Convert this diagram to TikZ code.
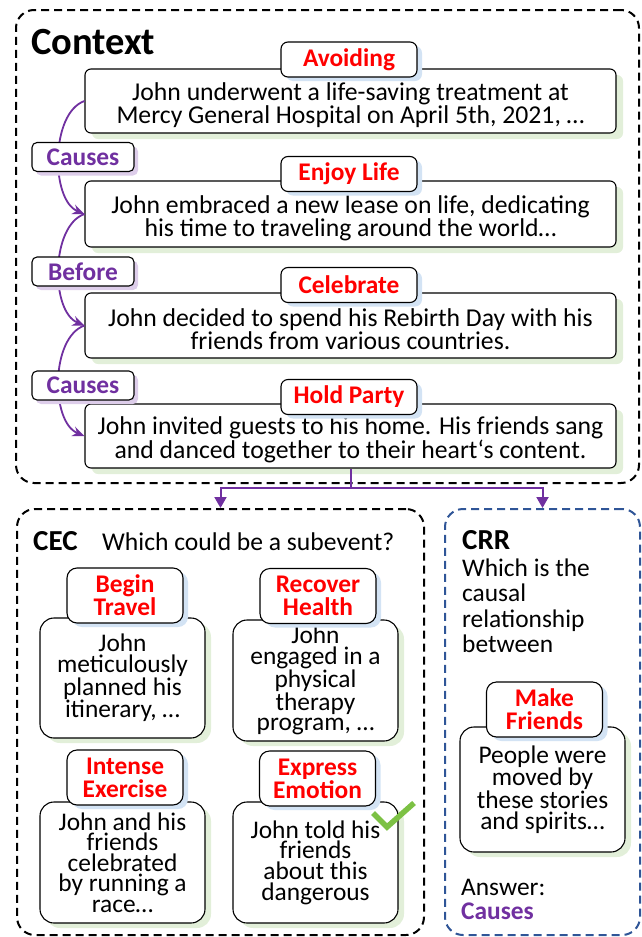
\documentclass[tikz,border=0pt]{standalone}
\usepackage{fontspec}
\setmainfont{Carlito}
\usetikzlibrary{shadows,arrows.meta}
\definecolor{relpurple}{HTML}{7030A0}
\definecolor{tagred}{HTML}{FF0000}
\definecolor{crrblue}{HTML}{2F5597}
\definecolor{checkgreen}{HTML}{7CC144}
\definecolor{shgreen}{HTML}{E2EFD9}
\definecolor{shblue}{HTML}{D3E3F4}
\definecolor{shpurple}{HTML}{DDCDEA}
\newcommand\evfont{\fontsize{25.7}{19.8}\selectfont}
\newcommand\subfont{\fontsize{25.4}{20.6}\selectfont}
\newcommand\tagfont{\fontsize{25.4}{23}\selectfont\bfseries}
\newcommand\evtop{\rule{0pt}{26pt}}
\begin{document}
\begin{tikzpicture}[x=1pt,y=-1pt,
  outerbox/.style={draw=black, line width=2pt, dash pattern=on 8pt off 5pt, rounded corners=18pt, inner sep=0pt},
  evbox/.style={draw=black, line width=1.1pt, rounded corners=6pt, fill=white, minimum width=531pt, align=center, font=\evfont, inner sep=0pt,
    general shadow={fill=shgreen, shadow xshift=7pt, shadow yshift=-6pt}},
  tagbox/.style={draw=black, line width=1.1pt, rounded corners=7pt, fill=white, minimum width=136pt, minimum height=35pt, inner sep=0pt, font=\tagfont, text=tagred,
    general shadow={fill=shblue, shadow xshift=5pt, shadow yshift=-4pt}},
  relbox/.style={draw=black, line width=1.1pt, rounded corners=5pt, fill=white, minimum width=102pt, minimum height=29pt, inner sep=0pt, font=\tagfont, text=relpurple,
    general shadow={fill=shpurple, shadow xshift=4pt, shadow yshift=-4pt}},
  relline/.style={draw=relpurple, line width=1.8pt, -{Stealth[length=12pt,width=10pt]}},
  flowline/.style={draw=relpurple, line width=2pt},
  subbox/.style={draw=black, line width=1.1pt, rounded corners=14pt, fill=white, minimum width=165pt, align=center, font=\subfont, inner sep=0pt,
    general shadow={fill=shgreen, shadow xshift=6pt, shadow yshift=-5pt}},
  subtag/.style={draw=black, line width=1.1pt, rounded corners=10pt, fill=white, minimum width=116pt, minimum height=55pt, inner sep=0pt, align=center, font=\tagfont, text=tagred,
    general shadow={fill=shblue, shadow xshift=5pt, shadow yshift=-4pt}},
  plain/.style={inner sep=0pt, anchor=base west}
]
\useasboundingbox (0,0) rectangle (641,937);

% outer boxes
\node[outerbox, minimum width=623pt, minimum height=473pt] (ctx) at (327.5,246.5) {};
\node[outerbox, minimum width=407pt, minimum height=426pt] (cec) at (220.5,722) {};
\node[outerbox, draw=crrblue, minimum width=195pt, minimum height=426pt] (crr) at (542.5,722) {};

% context title
\node[plain, font=\fontsize{38.5}{40}\selectfont\bfseries] (ctxtitle) at (31,54) {Context};

% event boxes
\node[evbox, minimum height=64pt] (b1) at (350.5,101) {\evtop John underwent a life-saving treatment at\\Mercy General Hospital on April 5th, 2021, \dots};
\node[evbox, minimum height=66pt] (b2) at (350.5,214) {\evtop John embraced a new lease on life, dedicating\\his time to traveling around the world\dots};
\node[evbox, minimum height=65pt] (b3) at (350.5,325.5) {\evtop John decided to spend his Rebirth Day with his\\friends from various countries.};
\node[evbox, minimum height=64pt] (b4) at (350.5,436) {\evtop John invited guests to his home. His friends sang\\and danced together to their heart‘s content.};

% tags
\node[tagbox] (t1) at (349,59.5) {Avoiding};
\node[tagbox] (t2) at (349,174) {Enjoy Life};
\node[tagbox] (t3) at (349,285) {Celebrate};
\node[tagbox] (t4) at (349,397) {Hold Party};

% relation curves
\draw[relline] (b1.west) .. controls +(-34,12) and +(-34,-14) .. (b2.west);
\draw[relline] (b2.west) .. controls +(-34,12) and +(-34,-14) .. (b3.west);
\draw[relline] (b3.west) .. controls +(-34,12) and +(-34,-14) .. (b4.west);

\node[relbox] (r1) at (83,157) {Causes};
\node[relbox] (r2) at (83,271.5) {Before};
\node[relbox] (r3) at (83,385.5) {Causes};

% flow to tasks
\coordinate (split) at (350.5,488);
\draw[flowline] (b4.south) -- (split);
\draw[flowline, -{Triangle[length=11pt,width=12pt]}] (split) -| (cec.north);
\draw[flowline, -{Triangle[length=11pt,width=12pt]}] (split) -| (crr.north);

% CEC
\node[plain, font=\fontsize{29}{32}\selectfont\bfseries] (cectitle) at (33,550) {CEC};
\node[plain, font=\fontsize{25.6}{28}\selectfont] (cecq) at (102,550) {Which could be a subevent?};

\node[subbox, minimum height=120pt] (s1) at (122.5,678) {John\\meticulously\\planned his\\itinerary, \dots};
\node[subbox, minimum height=121pt] (s2) at (315.5,680.5) {John\\engaged in a\\physical\\therapy\\program, \dots};
\node[subbox, minimum height=121pt] (s3) at (122.5,862.5) {John and his\\friends\\celebrated\\by running a\\race\dots};
\node[subbox, minimum height=121pt] (s4) at (315.5,862.5) {John told his\\friends\\about this\\dangerous};

\node[subtag] (st1) at (125,595.5) {Begin\\Travel};
\node[subtag] (st2) at (318,596) {Recover\\Health};
\node[subtag] (st3) at (125,777.5) {Intense\\Exercise};
\node[subtag] (st4) at (317.5,778.5) {Express\\Emotion};

% check mark
\draw[checkgreen, line width=5.5pt] (373,813) -- (387,827) -- (414,803);

% CRR
\node[plain, font=\fontsize{29}{32}\selectfont\bfseries] (crrtitle) at (462,549) {CRR};
\node[plain] (crrq1) at (462,576) {\fontsize{25.4}{25.5}\selectfont Which is the};
\node[plain] (crrq2) at (462,601.5) {\fontsize{25.4}{25.5}\selectfont causal};
\node[plain] (crrq3) at (462,627) {\fontsize{25.4}{25.5}\selectfont relationship};
\node[plain] (crrq4) at (462,652.5) {\fontsize{25.4}{25.5}\selectfont between};

\node[subbox, minimum height=125pt] (s5) at (542.5,789.5) {People were\\moved by\\these stories\\and spirits\dots};
\node[subtag] (st5) at (544.5,709.5) {Make\\Friends};

\node[plain, font=\fontsize{25.4}{26}\selectfont] (ans) at (461,895) {Answer:};
\node[plain, font=\fontsize{25.4}{26}\selectfont\bfseries, text=relpurple] (ansv) at (461,919) {Causes};
\end{tikzpicture}
\end{document}
